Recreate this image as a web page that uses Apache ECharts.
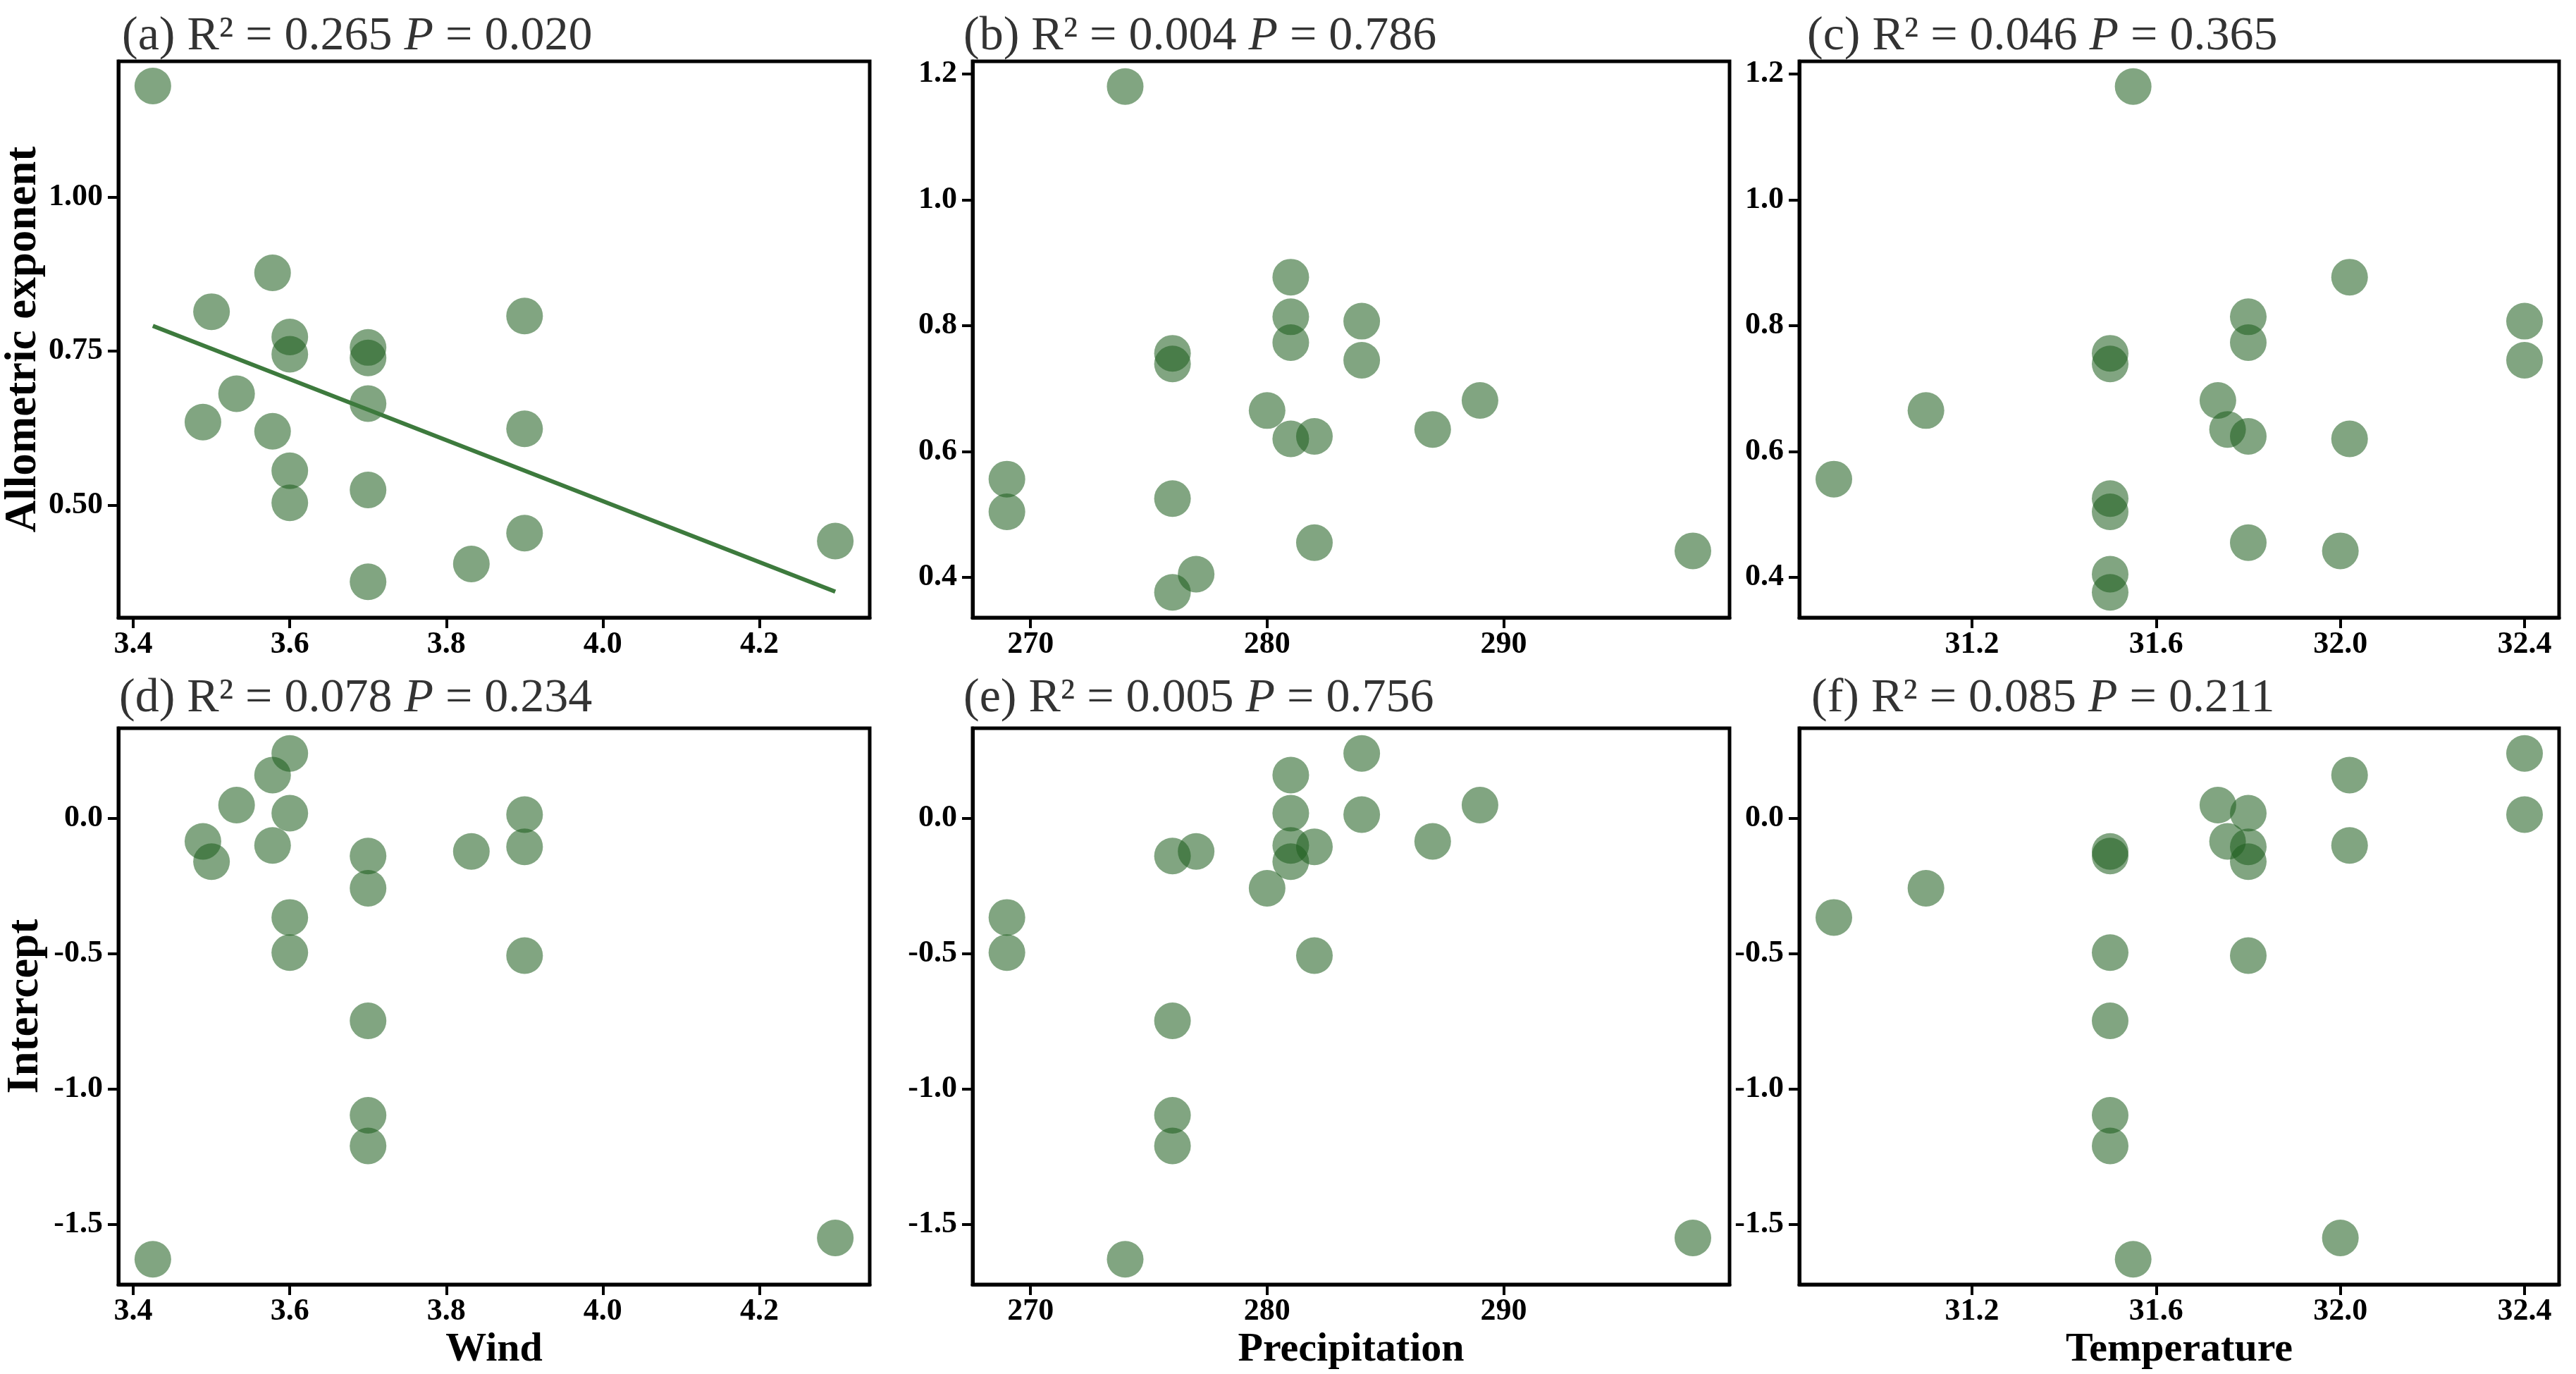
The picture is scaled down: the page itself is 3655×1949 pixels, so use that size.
<!DOCTYPE html>
<html>
<head>
<meta charset="utf-8">
<script src="https://cdn.jsdelivr.net/npm/echarts@6.0.0/dist/echarts.min.js"></script>
<style>
html, body { margin: 0; padding: 0; background: #fff; }
#chart { width: 3655px; height: 1949px; }
</style>
</head>
<body>
<div id="chart"></div>
<script>
// one entry per site, same order in every array
const wind = [3.425, 3.578, 3.50, 3.60, 3.90, 3.60, 3.70, 3.70, 3.70, 3.578,
              3.90, 3.489, 3.532, 3.60, 3.60, 3.70, 3.90, 4.297, 3.832, 3.70];
const precipitation = [274, 281, 281, 281, 284, 284, 276, 276, 280, 281,
                       282, 287, 289, 269, 269, 276, 282, 298, 277, 276];
const temperature = [31.55, 32.02, 31.80, 31.80, 32.40, 32.40, 31.50, 31.50, 31.10, 32.02,
                     31.80, 31.755, 31.734, 30.90, 31.50, 31.50, 31.80, 32.00, 31.50, 31.50];
const exponent = [1.180, 0.877, 0.814, 0.773, 0.807, 0.745, 0.756, 0.739, 0.665, 0.620,
                  0.624, 0.635, 0.681, 0.556, 0.504, 0.525, 0.455, 0.442, 0.405, 0.376];
const intercept = [-1.630, 0.159, -0.161, 0.018, 0.013, 0.239, -0.140, -0.749, -0.259, -0.101,
                   -0.106, -0.086, 0.048, -0.367, -0.497, -1.098, -0.508, -1.551, -0.123, -1.211];

// fitted line of panel (a), end points
const fitLine = [[3.425, 0.791], [4.297, 0.360]];

const panelTags = ['a', 'b', 'c', 'd', 'e', 'f'];
const r2Values = ['0.265', '0.004', '0.046', '0.078', '0.005', '0.085'];
const pValues = ['0.020', '0.786', '0.365', '0.234', '0.756', '0.211'];

const windTicks = [3.4, 3.6, 3.8, 4.0, 4.2];
const precipTicks = [270, 280, 290];
const tempTicks = [31.2, 31.6, 32.0, 32.4];
const exponentTicksA = [0.50, 0.75, 1.00];
const exponentTicks = [0.4, 0.6, 0.8, 1.0, 1.2];
const interceptTicks = [-1.5, -1.0, -0.5, 0.0];

const serif = '"Liberation Serif", "DejaVu Serif", serif';
const pointColor = 'rgba(30,95,30,0.7)';

const colLeft = [168, 1380, 2553];
const colWidth = [1066, 1074, 1078];
const rowTop = [87, 1033];
const panelHeight = 789;
const titleLeft = [168, 1362, 2559, 164, 1362, 2565];
const titleTop = [9, 948];

const xVars = [
    { values: wind, range: [3.381, 4.341], ticks: windTicks, digits: 1, name: 'Wind' },
    { values: precipitation, range: [267.55, 299.55], ticks: precipTicks, digits: 0, name: 'Precipitation' },
    { values: temperature, range: [30.825, 32.475], ticks: tempTicks, digits: 1, name: 'Temperature' }
];
const yVars = [
    { values: exponent, range: [0.336, 1.22], ticks: exponentTicks, digits: 1, name: 'Allometric exponent' },
    { values: intercept, range: [-1.723, 0.332], ticks: interceptTicks, digits: 1, name: 'Intercept' }
];

const pair = (xs, ys) => xs.map((x, i) => [x, ys[i]]);

let grids = [], xAxes = [], yAxes = [], titles = [], series = [];

for (let row = 0; row < 2; row++) {
    for (let col = 0; col < 3; col++) {
        let i = row * 3 + col;
        let xv = xVars[col];
        let yv = Object.assign({}, yVars[row]);
        if (i === 0) {
            yv.range = [0.318, 1.22];
            yv.ticks = exponentTicksA;
            yv.digits = 2;
        }

        grids.push({
            left: colLeft[col],
            top: rowTop[row],
            width: colWidth[col],
            height: panelHeight,
            show: true,
            borderColor: '#000',
            borderWidth: 5,
            backgroundColor: 'transparent'
        });

        xAxes.push({
            type: 'value',
            gridIndex: i,
            min: xv.range[0],
            max: xv.range[1],
            axisLine: { show: true, onZero: false, lineStyle: { color: '#000', width: 5 } },
            axisTick: { show: true, length: 15, customValues: xv.ticks, lineStyle: { color: '#000', width: 4 } },
            axisLabel: {
                customValues: xv.ticks,
                formatter: v => Number(v).toFixed(xv.digits),
                margin: 17,
                fontFamily: serif,
                fontWeight: 'bold',
                fontSize: 44,
                color: '#000'
            },
            splitLine: { show: false },
            name: row === 1 ? xv.name : '',
            nameLocation: 'middle',
            nameGap: 64,
            nameTextStyle: { fontFamily: serif, fontWeight: 'bold', fontSize: 58, color: '#000' }
        });

        yAxes.push({
            type: 'value',
            gridIndex: i,
            min: yv.range[0],
            max: yv.range[1],
            axisLine: { show: true, onZero: false, lineStyle: { color: '#000', width: 5 } },
            axisTick: { show: true, length: 15, customValues: yv.ticks, lineStyle: { color: '#000', width: 4 } },
            axisLabel: {
                customValues: yv.ticks,
                formatter: v => Number(v).toFixed(yv.digits),
                margin: 22,
                fontFamily: serif,
                fontWeight: 'bold',
                fontSize: 44,
                color: '#000'
            },
            splitLine: { show: false },
            name: col === 0 ? yv.name : '',
            nameLocation: 'middle',
            nameGap: 100,
            nameTextStyle: { fontFamily: serif, fontWeight: 'bold', fontSize: 63, color: '#000' }
        });

        titles.push({
            left: titleLeft[i],
            top: titleTop[row],
            text: '{n|(' + panelTags[i] + ') R² = ' + r2Values[i] + ' }{i|P}{n| = ' + pValues[i] + '}',
            textStyle: {
                fontWeight: 'normal',
                rich: {
                    n: { fontFamily: serif, fontSize: 68, lineHeight: 76, fontWeight: 'normal', color: '#333' },
                    i: { fontFamily: serif, fontSize: 68, lineHeight: 76, fontWeight: 'normal', fontStyle: 'italic', color: '#333' }
                }
            }
        });

        series.push({
            type: 'scatter',
            xAxisIndex: i,
            yAxisIndex: i,
            symbol: 'circle',
            symbolSize: 52,
            itemStyle: { color: pointColor },
            data: pair(xv.values, yv.values)
        });
    }
}

series.push({
    type: 'line',
    xAxisIndex: 0,
    yAxisIndex: 0,
    data: fitLine,
    showSymbol: false,
    symbol: 'none',
    z: 5,
    lineStyle: { color: '#3d7a3d', width: 6 }
});

let myChart = echarts.init(document.getElementById('chart'));
myChart.setOption({
    animation: false,
    backgroundColor: '#fff',
    title: titles,
    grid: grids,
    xAxis: xAxes,
    yAxis: yAxes,
    series: series
});
</script>
</body>
</html>
